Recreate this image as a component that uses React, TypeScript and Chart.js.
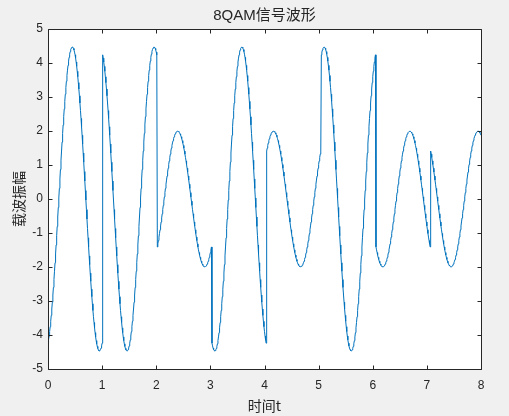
import React, { useEffect, useRef } from "react";
import { Chart, registerables } from "chart.js";

Chart.register(...registerables);

// 8QAM symbols (in-phase / quadrature amplitudes per symbol)
const SYMBOL_I = [-4.24, 4.24, -1.41, -4.24, 1.41, 4.24, -1.41, 1.41];
const SYMBOL_Q = [1.41, -1.41, 1.41, -1.41, 1.41, 1.41, -1.41, -1.41];
const SAMPLES_PER_SYMBOL = 101; // local time 0:0.01:1
const SAMPLE_STEP = 0.01;
const CARRIER_FREQ = 1;

const X_TICKS = [0, 1, 2, 3, 4, 5, 6, 7, 8];
const Y_TICKS = [-5, -4, -3, -2, -1, 0, 1, 2, 3, 4, 5];

const TITLE = "8QAM信号波形";
const X_LABEL = "时间t";
const Y_LABEL = "载波振幅";

function buildWave() {
  const pts: { x: number; y: number }[] = [];
  for (let k = 0; k < SYMBOL_I.length; k++) {
    for (let j = 0; j < SAMPLES_PER_SYMBOL; j++) {
      const tl = j * SAMPLE_STEP;
      const w = 2 * Math.PI * CARRIER_FREQ * tl;
      pts.push({
        x: (k * SAMPLES_PER_SYMBOL + j) * SAMPLE_STEP,
        y: SYMBOL_I[k] * Math.cos(w) + SYMBOL_Q[k] * Math.sin(w),
      });
    }
  }
  return pts;
}

const AXIS_COLOR = "#262626";
const FONT = "'Liberation Sans', Arial, 'Noto Sans CJK SC', sans-serif";
const CJK_FONT = "'Noto Sans CJK SC', sans-serif";

const matlabAxes = {
  id: "matlabAxes",
  beforeDraw(chart: any) {
    const { ctx, chartArea: a, width, height } = chart;
    ctx.save();
    ctx.fillStyle = "#f0f0f0";
    ctx.fillRect(0, 0, width, height);
    ctx.fillStyle = "#ffffff";
    ctx.fillRect(a.left, a.top, a.right - a.left, a.bottom - a.top);
    ctx.restore();
  },
  afterDraw(chart: any) {
    const { ctx, chartArea: a, scales } = chart;
    ctx.save();
    ctx.strokeStyle = AXIS_COLOR;
    ctx.lineWidth = 1;
    const L = Math.round(a.left) + 0.5;
    const R = Math.round(a.right) + 0.5;
    const T = Math.round(a.top) + 0.5;
    const B = Math.round(a.bottom) + 0.5;
    ctx.beginPath();
    ctx.rect(L, T, R - L, B - T);
    const tl = 4;
    X_TICKS.forEach((v) => {
      const x = Math.round(scales.x.getPixelForValue(v)) + 0.5;
      ctx.moveTo(x, B);
      ctx.lineTo(x, B - tl);
      ctx.moveTo(x, T);
      ctx.lineTo(x, T + tl);
    });
    Y_TICKS.forEach((v) => {
      const y = Math.round(scales.y.getPixelForValue(v)) + 0.5;
      ctx.moveTo(L, y);
      ctx.lineTo(L + tl, y);
      ctx.moveTo(R, y);
      ctx.lineTo(R - tl, y);
    });
    ctx.stroke();
    ctx.fillStyle = AXIS_COLOR;
    ctx.font = "15px " + FONT;
    ctx.textAlign = "center";
    ctx.textBaseline = "middle";
    ctx.fillText(TITLE, (a.left + a.right) / 2, 16);
    ctx.restore();
  },
};

export default function App() {
  const ref = useRef<HTMLCanvasElement | null>(null);
  useEffect(() => {
    document.body.style.margin = "0";
    document.body.style.background = "#f0f0f0";
    const canvas = ref.current!;
    const chart = new Chart(canvas, {
      type: "line",
      data: {
        datasets: [
          {
            data: buildWave(),
            borderColor: "#0072BD",
            borderWidth: 1,
            pointRadius: 0,
            tension: 0,
            fill: false,
          },
        ],
      },
      options: {
        responsive: false,
        animation: false,
        devicePixelRatio: 1,
        layout: { padding: { top: 29, right: 28, left: 0, bottom: 0 } },
        plugins: {
          legend: { display: false },
          tooltip: { enabled: false },
          title: { display: false },
        },
        scales: {
          x: {
            type: "linear",
            min: 0,
            max: 8,
            afterFit: (s: any) => {
              s.height = 47;
            },
            afterBuildTicks: (s: any) => {
              s.ticks = X_TICKS.map((v) => ({ value: v }));
            },
            grid: { display: false, drawTicks: false },
            border: { display: false },
            ticks: {
              color: AXIS_COLOR,
              font: { family: FONT, size: 12 },
              padding: 9,
              maxRotation: 0,
            },
            title: {
              display: true,
              text: X_LABEL,
              color: AXIS_COLOR,
              font: { family: CJK_FONT, size: 14 },
              padding: { top: 0, bottom: 2 },
            },
          },
          y: {
            type: "linear",
            min: -5,
            max: 5,
            afterFit: (s: any) => {
              s.width = 48;
            },
            afterBuildTicks: (s: any) => {
              s.ticks = Y_TICKS.map((v) => ({ value: v }));
            },
            grid: { display: false, drawTicks: false },
            border: { display: false },
            ticks: {
              color: AXIS_COLOR,
              font: { family: FONT, size: 12 },
              padding: 5,
            },
            title: {
              display: true,
              text: Y_LABEL,
              color: AXIS_COLOR,
              font: { family: CJK_FONT, size: 14 },
              padding: { top: 10, bottom: 0 },
            },
          },
        },
      },
      plugins: [matlabAxes],
    });
    return () => chart.destroy();
  }, []);
  return (
    <canvas
      ref={ref}
      width={509}
      height={416}
      style={{ display: "block", width: 509, height: 416 }}
    />
  );
}
